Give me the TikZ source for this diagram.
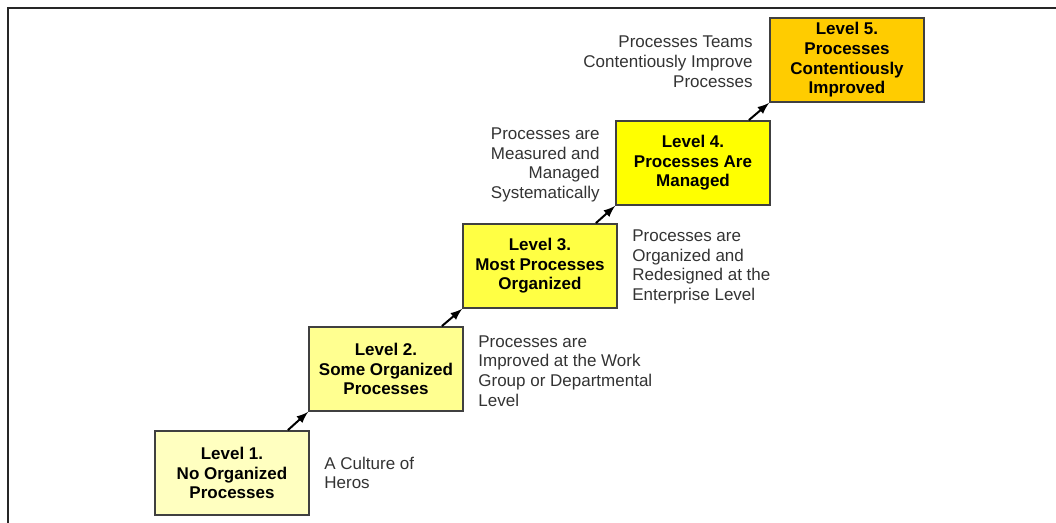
\documentclass[tikz,border=0pt]{standalone}
\usepackage{fontspec}
\setmainfont{Liberation Sans}
\usepackage{xcolor}
\usetikzlibrary{arrows,positioning}
\definecolor{lvlone}{HTML}{FFFFC0}
\definecolor{lvltwo}{HTML}{FFFF90}
\definecolor{lvlthree}{HTML}{FFFF44}
\definecolor{lvlfour}{HTML}{FFFF00}
\definecolor{lvlfive}{HTML}{FFCC00}

\begin{document}
\begin{tikzpicture}[x=0.5pt,y=-0.5pt,
    level/.style={draw=black!75,line width=0.9pt,minimum width=77pt,minimum height=42pt,
      inner sep=0pt,align=center,font=\fontsize{8.5}{9.8}\selectfont\bfseries},
    note/.style={inner sep=0pt,text=black!80,font=\fontsize{8.5}{9.9}\selectfont},
    climb/.style={-latex,line width=1pt}]
  \useasboundingbox (0,0) rectangle (1056,523);
  % frame
  \draw[line width=1pt,black!85] (8,530) -- (8,8) -- (1060,8);
  % levels
  \node[level,fill=lvlone] (l1) at (232,473) {Level 1.\\No Organized\\Processes};
  \node[level,fill=lvltwo] (l2) at (386,369) {Level 2.\\Some Organized\\Processes};
  \node[level,fill=lvlthree] (l3) at (540,266) {Level 3.\\Most Processes\\Organized};
  \node[level,fill=lvlfour] (l4) at (693,163) {Level 4.\\Processes Are\\Managed};
  \node[level,fill=lvlfive] (l5) at (847,60) {Level 5.\\Processes\\Contentiously\\Improved};
  % descriptions
  \node[note,anchor=west,align=left] (d1) at (324,473) {A Culture of\\Heros};
  \node[note,anchor=west,align=left] (d2) at (478,371) {Processes are\\Improved at the Work\\Group or Departmental\\Level};
  \node[note,anchor=west,align=left] (d3) at (632,267) {Processes are\\Organized and\\Redesigned at the\\Enterprise Level};
  \node[note,anchor=east,align=right] (d4) at (600,165) {Processes are\\Measured and\\Managed\\Systematically};
  \node[note,anchor=east,align=right] (d5) at (753,62) {Processes Teams\\Contentiously Improve\\Processes};
  % arrows
  \draw[climb] ([xshift=-11pt]l1.north east) -- (l2.south west);
  \draw[climb] ([xshift=-11pt]l2.north east) -- (l3.south west);
  \draw[climb] ([xshift=-11pt]l3.north east) -- (l4.south west);
  \draw[climb] ([xshift=-11pt]l4.north east) -- (l5.south west);
\end{tikzpicture}
\end{document}
